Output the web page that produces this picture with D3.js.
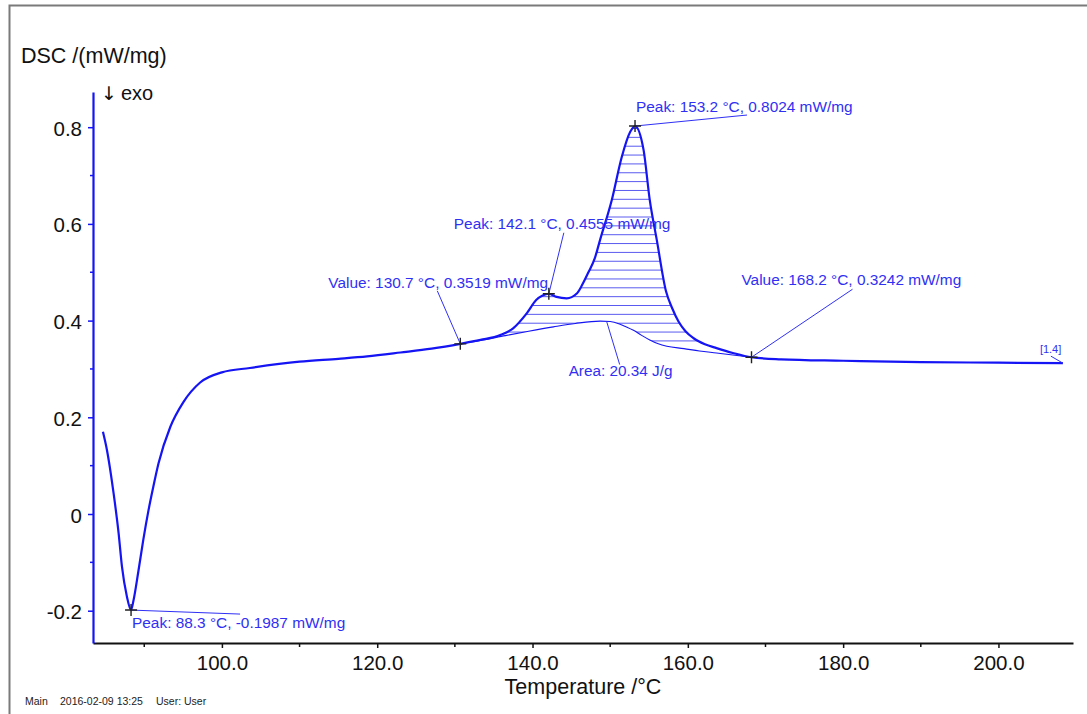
<!DOCTYPE html>
<html>
<head>
<meta charset="utf-8">
<script src="https://cdn.jsdelivr.net/npm/d3@7"></script>
<style>
  body { margin: 0; background: #fff; }
  svg { display: block; font-family: "Liberation Sans", Arial, sans-serif; }
</style>
</head>
<body>
<div id="chart"></div>
<script>
// DSC signal (°C, mW/mg)
const temps = [84.68, 85.2, 86.05, 86.7, 87.13, 87.77, 88.3, 88.6, 89.23, 89.87, 90.55, 91.16, 91.84,
  93.35, 95.06, 97.2, 100, 103.6, 110, 115, 118.7, 123, 127, 130.7, 133.3, 135.85, 137.5, 139.25,
  140.5, 141.3, 142.1, 143.1, 144.4, 145.7, 146.4, 147.2, 148, 148.7, 150.2, 151.5, 152.6, 153.2,
  154.3, 155.1, 156, 157.2, 158.0, 158.8, 159.7, 160.7, 162.2, 163.7, 165.8, 168.2, 172, 180, 190, 200, 208.3];
const dsc = [0.170, 0.132, 0.043, -0.040, -0.109, -0.171, -0.1987, -0.180, -0.120, -0.054, 0.008, 0.056, 0.105,
  0.180, 0.232, 0.272, 0.293, 0.302, 0.315, 0.321, 0.326, 0.334, 0.342, 0.3519, 0.360, 0.370, 0.384, 0.415,
  0.443, 0.452, 0.4555, 0.449, 0.446, 0.456, 0.474, 0.500, 0.528, 0.567, 0.649, 0.739, 0.791, 0.8024,
  0.753, 0.649, 0.567, 0.460, 0.425, 0.398, 0.378, 0.364, 0.351, 0.343, 0.333, 0.3242, 0.320, 0.317, 0.314, 0.313, 0.312];

// integration baseline of the area
const baseTemps = [130.7, 133.3, 136.5, 139.5, 142.7, 145.5, 148.7, 150.0, 151.2, 152.1, 153.0, 154.0,
  155.1, 156.2, 157.3, 159.5, 161.5, 163.7, 165.8, 168.2];
const baseDsc = [0.3519, 0.359, 0.369, 0.378, 0.387, 0.394, 0.399, 0.398, 0.393, 0.387, 0.380, 0.370,
  0.360, 0.352, 0.347, 0.342, 0.337, 0.333, 0.329, 0.3242];

// ticks
const xMajorTicks = [100, 120, 140, 160, 180, 200];
const xMinorTicks = [90, 110, 130, 150, 170, 190];
const yMajorTicks = [-0.2, 0, 0.2, 0.4, 0.6, 0.8];
const yMinorTicks = [-0.1, 0.1, 0.3, 0.5, 0.7];

// evaluated points
const markTemps = [88.3, 130.7, 142.1, 153.2, 168.2];
const markDsc = [-0.1987, 0.3519, 0.4555, 0.8024, 0.3242];
const markLabels = [
  "Peak: 88.3 °C, -0.1987 mW/mg",
  "Value: 130.7 °C, 0.3519 mW/mg",
  "Peak: 142.1 °C, 0.4555 mW/mg",
  "Peak: 153.2 °C, 0.8024 mW/mg",
  "Value: 168.2 °C, 0.3242 mW/mg"
];
const areaText = "Area: 20.34 J/g";
const areaTemp = 149.55;
const areaDsc = 0.398;
const curveTag = "[1.4]";

// label placement relative to the marked point: leader end, text start (px)
const markLayout = [
  { lx: 109, ly: 4, tx: 1, ty: 18 },
  { lx: -23, ly: -53, tx: -132, ty: -56 },
  { lx: 15, ly: -61, tx: -95, ty: -65 },
  { lx: 112, ly: -11, tx: 1, ty: -14 },
  { lx: 101, ly: -68, tx: -10, ty: -72 }
];

const width = 1087;
const height = 714;
const blue = "#1414f5";
const labelBlue = "#3030f5";

// plain hyphen for negative numbers, like the instrument software
const fmt = d3.formatLocale({ decimal: ".", thousands: ",", grouping: [3], currency: ["", ""], minus: "-" });

const svg = d3.select("#chart")
  .append("svg")
  .attr("width", width)
  .attr("height", height);

const x = d3.scaleLinear().domain([83.4, 209.6]).range([93, 1073]);
const y = d3.scaleLinear().domain([-0.2668, 0.8728]).range([643, 92]);

// page frame
svg.append("path")
  .attr("d", `M9.5,${height}V5.5H${width}`)
  .attr("fill", "none")
  .attr("stroke", "#7a7a7a")
  .attr("stroke-width", 2);

// === Axes ===
const xAxis = svg.append("g")
  .attr("transform", "translate(0,643)")
  .call(d3.axisBottom(x).tickValues(xMajorTicks).tickSize(5).tickSizeOuter(0).tickFormat(fmt.format(".1f")));
xAxis.select(".domain").attr("stroke", "#111").attr("stroke-width", 2.2);
xAxis.selectAll(".tick line").attr("stroke", "#111").attr("stroke-width", 1.5);
xAxis.selectAll(".tick text")
  .attr("y", 27).attr("dy", 0)
  .attr("fill", "#111")
  .style("font-size", "20.5px");
xAxis.selectAll(".minor")
  .data(xMinorTicks)
  .join("line")
  .attr("class", "minor")
  .attr("x1", d => x(d)).attr("x2", d => x(d))
  .attr("y1", 0).attr("y2", 4)
  .attr("stroke", "#111")
  .attr("stroke-width", 1.5);

const yAxis = svg.append("g")
  .attr("transform", "translate(93,0)")
  .call(d3.axisLeft(y).tickValues(yMajorTicks).tickSize(5).tickSizeOuter(0)
    .tickFormat(d => d === 0 ? "0" : fmt.format(".1f")(d)));
yAxis.select(".domain").attr("stroke", blue).attr("stroke-width", 2.2);
yAxis.selectAll(".tick line").attr("stroke", blue).attr("stroke-width", 1.5);
yAxis.selectAll(".tick text")
  .attr("x", -11).attr("dy", 8)
  .attr("fill", "#111")
  .style("font-size", "20.5px");
yAxis.selectAll(".minor")
  .data(yMinorTicks)
  .join("line")
  .attr("class", "minor")
  .attr("x1", -3).attr("x2", 0)
  .attr("y1", d => y(d)).attr("y2", d => y(d))
  .attr("stroke", blue)
  .attr("stroke-width", 1.5);

svg.append("text")
  .attr("x", 21).attr("y", 63)
  .attr("fill", "#111")
  .style("font-size", "21.5px")
  .text("DSC /(mW/mg)");

const exo = svg.append("text")
  .attr("x", 101).attr("y", 100)
  .attr("fill", "#111")
  .style("font-size", "20px");
exo.append("tspan")
  .style("font-family", "'DejaVu Sans', sans-serif")
  .style("font-size", "19px")
  .text("↓");
exo.append("tspan")
  .attr("x", 121)
  .text("exo");

svg.append("text")
  .attr("x", x(146.5)).attr("y", 694)
  .attr("text-anchor", "middle")
  .attr("fill", "#111")
  .style("font-size", "21.5px")
  .text("Temperature /°C");

// footer
const footer = svg.append("g")
  .attr("fill", "#222")
  .style("font-size", "10.5px");
footer.append("text").attr("x", 25).attr("y", 705).text("Main");
footer.append("text").attr("x", 60).attr("y", 705).text("2016-02-09 13:25");
footer.append("text").attr("x", 156).attr("y", 705).text("User: User");

// === Curve data ===
const points = temps.map((t, i) => [t, dsc[i]]);
const basePoints = baseTemps.map((t, i) => [t, baseDsc[i]]);
const line = d3.line()
  .x(d => x(d[0]))
  .y(d => y(d[1]))
  .curve(d3.curveMonotoneX);

// hatched area between curve and baseline
const peakPart = points.filter(d => d[0] >= 130.7 && d[0] <= 168.2);
const clipD = line(peakPart) + line(basePoints.slice().reverse()).replace(/^M/, "L") + "Z";
svg.append("clipPath")
  .attr("id", "areaClip")
  .append("path")
  .attr("d", clipD);

const hatchY = d3.range(y(0.358), y(0.81), -8.85);
svg.append("g")
  .attr("clip-path", "url(#areaClip)")
  .selectAll("line")
  .data(hatchY)
  .join("line")
  .attr("x1", x(129)).attr("x2", x(170))
  .attr("y1", d => d).attr("y2", d => d)
  .attr("stroke", "#5a5af0")
  .attr("stroke-width", 1);

svg.append("path")
  .attr("d", line(basePoints))
  .attr("fill", "none")
  .attr("stroke", blue)
  .attr("stroke-width", 1.1);

svg.append("path")
  .attr("d", line(points))
  .attr("fill", "none")
  .attr("stroke", blue)
  .attr("stroke-width", 2.2);

// === Annotations ===
const ann = svg.append("g");
markTemps.forEach((t, i) => {
  const px = x(t);
  const py = y(markDsc[i]);
  const lay = markLayout[i];
  ann.append("line")
    .attr("x1", px).attr("y1", py)
    .attr("x2", px + lay.lx).attr("y2", py + lay.ly)
    .attr("stroke", labelBlue)
    .attr("stroke-width", 1);
  ann.append("path")
    .attr("d", `M${px - 6},${py}H${px + 6}M${px},${py - 6}V${py + 6}`)
    .attr("stroke", "#222")
    .attr("stroke-width", 1.4);
  ann.append("text")
    .attr("x", px + lay.tx).attr("y", py + lay.ty)
    .attr("fill", labelBlue)
    .style("font-size", "15.4px")
    .text(markLabels[i]);
});

const ax = x(areaTemp);
const ay = y(areaDsc);
ann.append("line")
  .attr("x1", ax).attr("y1", ay)
  .attr("x2", ax + 13).attr("y2", ay + 43)
  .attr("stroke", labelBlue)
  .attr("stroke-width", 1);
ann.append("text")
  .attr("x", ax - 38).attr("y", ay + 54)
  .attr("fill", labelBlue)
  .style("font-size", "15.3px")
  .text(areaText);

const ex = x(temps[temps.length - 1]);
const ey = y(dsc[dsc.length - 1]);
ann.append("line")
  .attr("x1", ex).attr("y1", ey)
  .attr("x2", ex - 12).attr("y2", ey - 7)
  .attr("stroke", labelBlue)
  .attr("stroke-width", 1);
ann.append("text")
  .attr("x", ex - 23).attr("y", ey - 10)
  .attr("fill", labelBlue)
  .style("font-size", "11px")
  .text(curveTag);
</script>
</body>
</html>
